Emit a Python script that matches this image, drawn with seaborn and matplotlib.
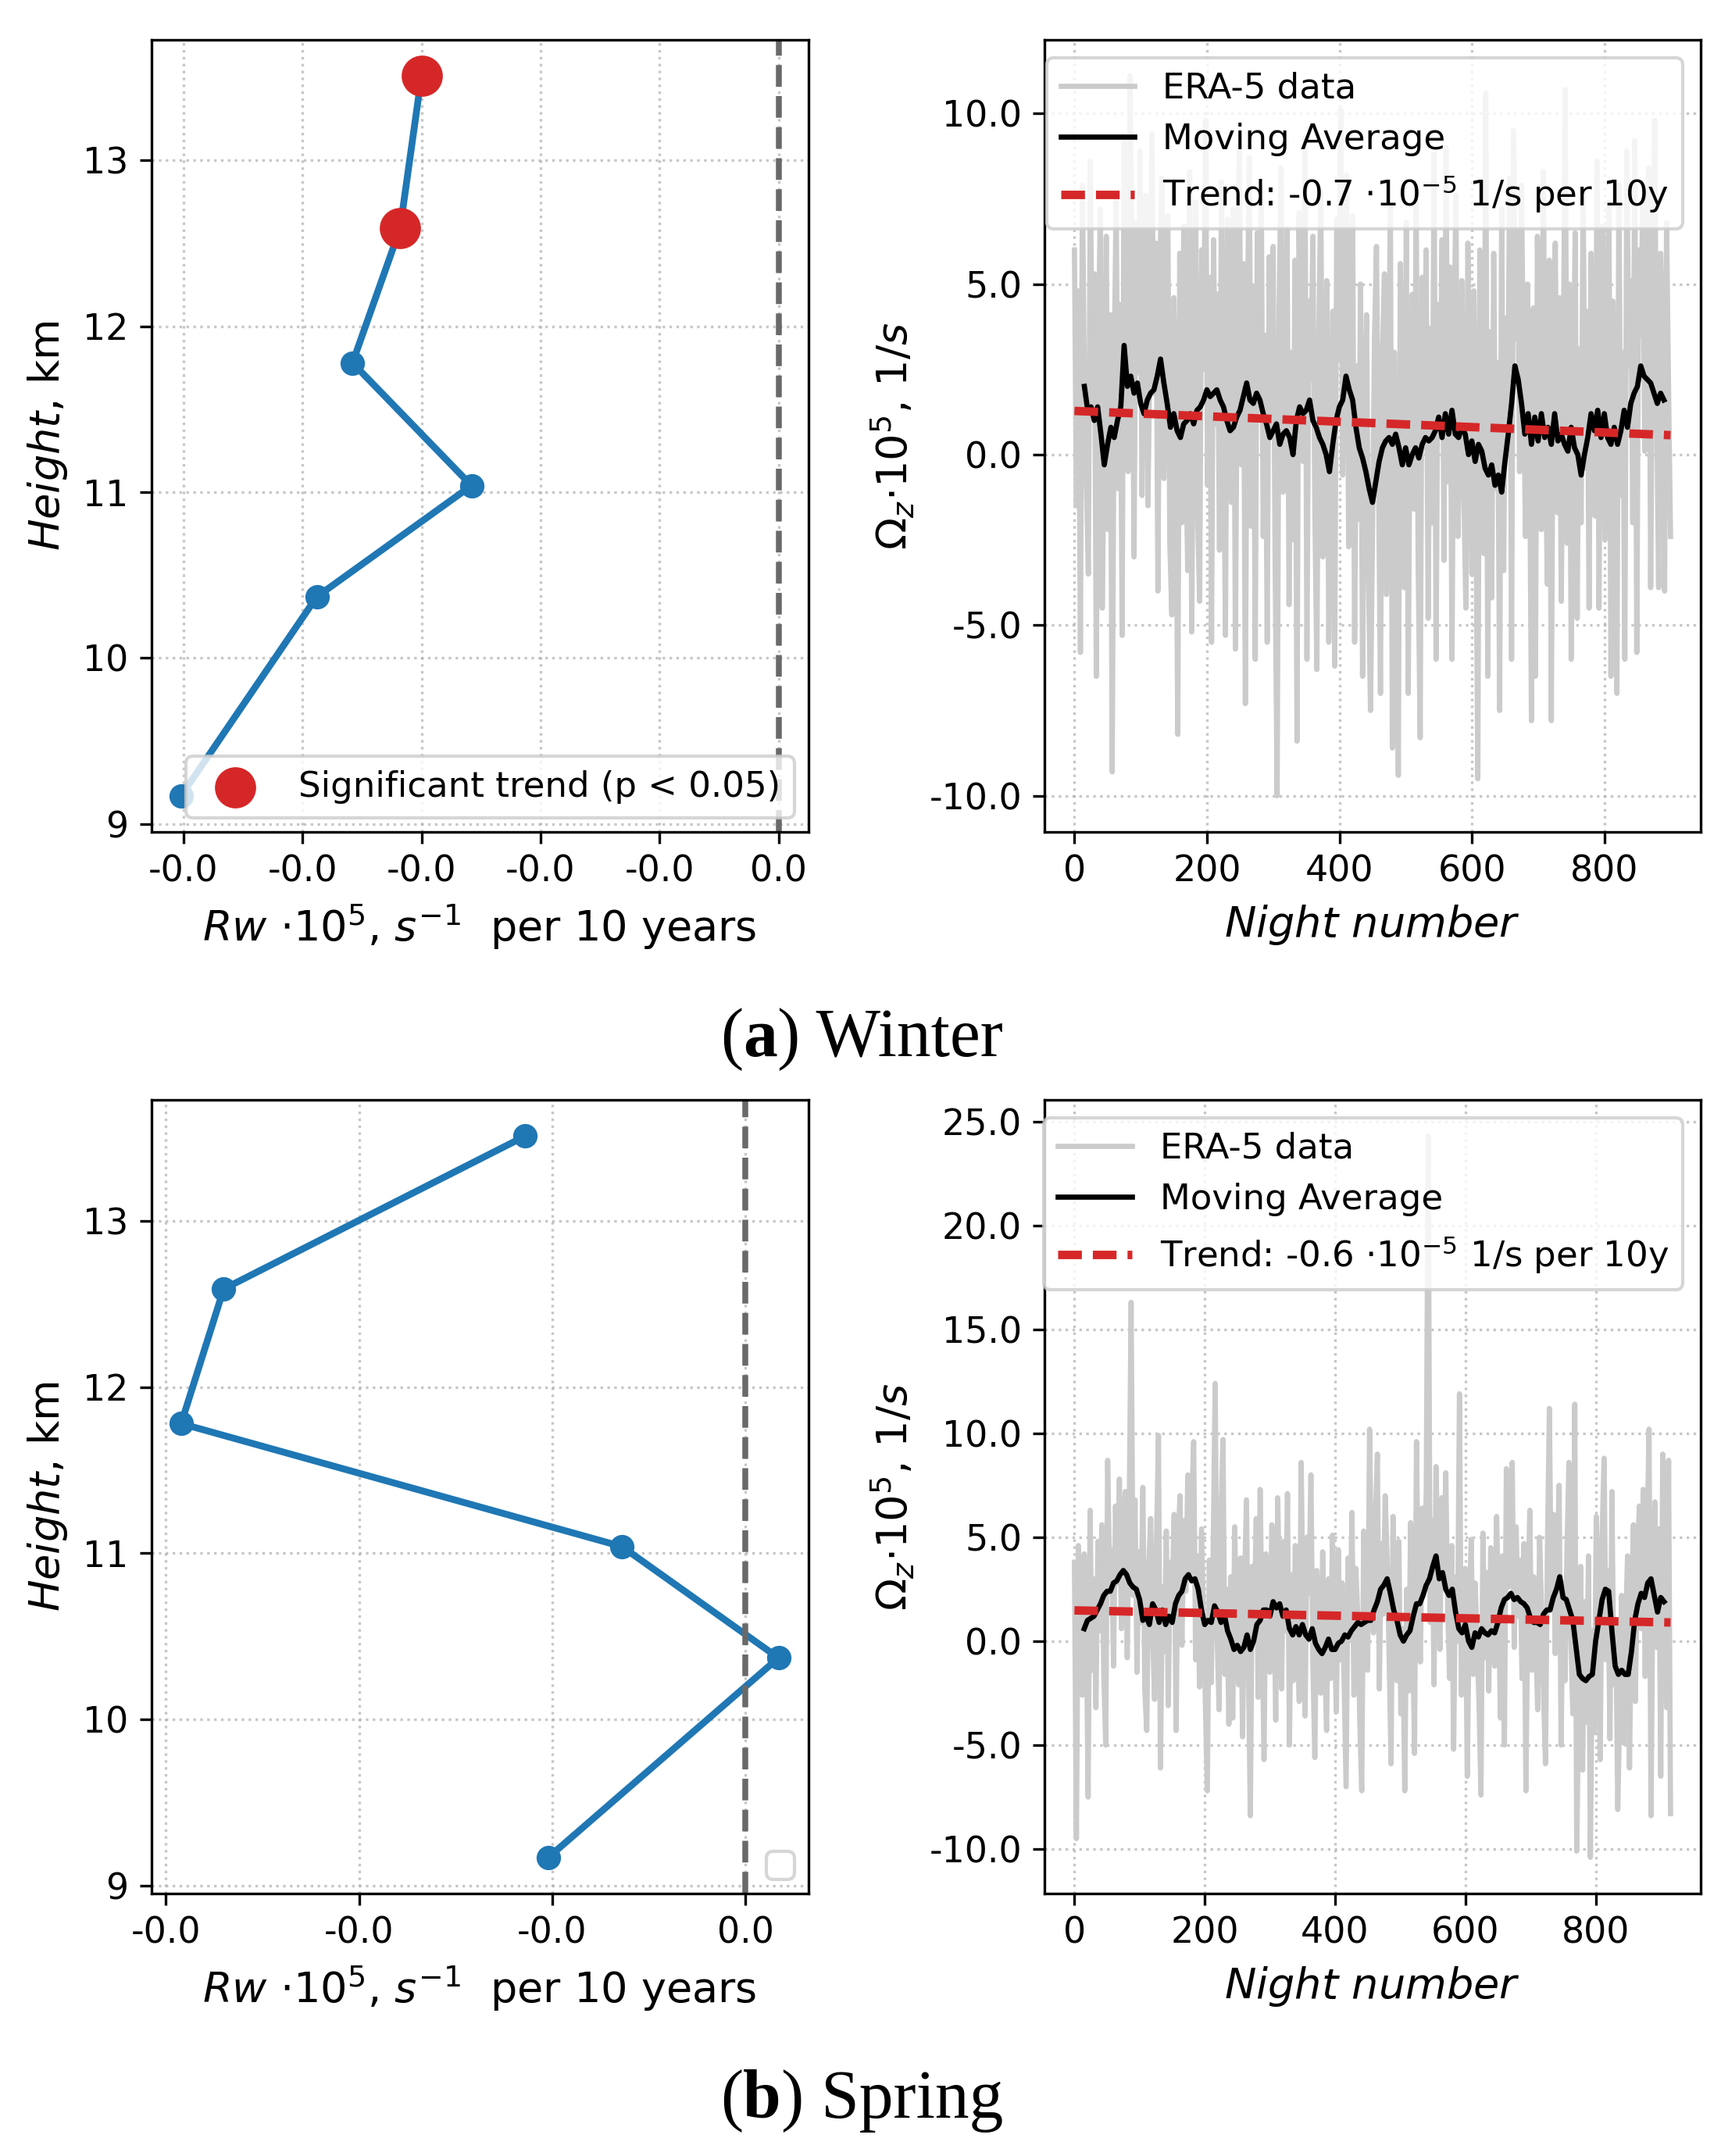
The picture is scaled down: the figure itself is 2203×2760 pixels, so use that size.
import numpy as np
import matplotlib
matplotlib.use("Agg")
import matplotlib.pyplot as plt
import seaborn as sns
from matplotlib import ticker

# ---- vertical profiles (left column) ----
heights = [9.17, 10.37, 11.04, 11.78, 12.59, 13.51]
winter_rw = [-0.0251, -0.0194, -0.0129, -0.0179, -0.0159, -0.0150]
spring_rw = [-0.0102, 0.0017, -0.0064, -0.0292, -0.0270, -0.0114]
winter_sig = [False, False, False, False, True, True]

# ---- ERA-5 nightly vorticity, every 3rd night (right column) ----
winter_era5 = [
    6.0, -1.5, 4.8, -5.8, 7.9, 2.1, -0.8, -3.5, 8.6, 1.2,
    5.3, -6.5, 3.0, 7.2, -4.5, 0.8, 6.4, -2.2, 4.1, -9.3,
    2.7, 7.5, -1.0, 4.4, -5.3, 9.2, 3.6, -0.5, 11.1, 5.1,
    -3.0, 6.8, 2.4, 8.9, -1.2, 4.0, 7.6, -1.5, 3.3, 9.4,
    1.8, 6.2, -4.0, 5.5, 8.1, -0.7, 3.9, 7.0, -2.6, -4.7,
    4.6, 1.0, -8.2, 5.9, -2.0, 6.7, 0.4, -3.4, 8.3, -5.2,
    3.1, 7.4, -1.8, -4.3, 6.0, 2.5, 9.8, -0.9, 5.2, -5.5,
    6.3, 0.9, 4.7, -2.8, 8.0, 1.6, -5.3, 6.9, 3.2, -1.4,
    7.2, -5.7, 4.0, 9.1, -0.3, 5.6, -7.3, 3.8, 8.7, -2.1,
    4.9, -6.0, 6.5, 1.3, 7.8, -2.4, 3.5, -5.5, 5.8, 0.6,
    6.1, -3.2, -10.0, 4.3, 8.4, -1.1, 2.0, 6.6, -4.4, 3.0,
    -2.5, 5.7, -8.4, 7.1, 1.9, -0.2, 9.3, -6.0, 4.5, 2.2,
    6.4, -1.7, -6.3, 3.6, 7.7, -3.0, 0.5, 5.1, -5.5, -1.0,
    4.2, -6.2, 6.9, 2.8, 10.1, -0.6, 5.4, 8.2, -2.7, 3.9,
    7.0, -5.5, 2.6, -1.9, 5.0, -6.5, 1.1, 4.1, -3.6, -7.5,
    -2.3, 3.4, 6.1, -0.4, -7.0, 2.9, 5.3, -4.1, 1.7, 7.3,
    -8.6, 3.0, -2.8, -9.4, 5.6, 1.5, -3.9, 6.8, -7.0, 2.3,
    4.7, -1.6, 7.4, -3.3, -8.3, 5.2, 0.2, 6.0, -4.8, 3.7,
    -2.0, 8.8, -6.0, 4.4, 1.0, 6.3, -3.1, 9.0, -0.8, 5.5,
    -6.0, 3.3, 7.6, -2.4, 0.9, 5.1, -1.3, -4.5, 6.2, 2.0,
    -3.5, 4.8, -0.7, -9.5, 6.0, 1.4, -2.9, 10.6, -6.5, 3.6,
    -4.2, 5.9, -1.0, 2.7, -7.5, 7.2, -3.4, 4.0, 0.1, 8.1,
    -6.0, 9.5, 3.4, 6.6, -0.5, 7.9, 2.2, -2.4, 5.0, 1.0,
    -7.8, 4.3, -6.5, 6.4, 1.6, -2.2, 8.3, 0.3, -3.8, 5.7,
    -7.8, 3.5, 6.2, -1.7, 4.6, -4.3, 2.1, 10.7, -2.6, 5.0,
    -6.0, 1.8, 6.5, -4.8, 3.1, -2.0, 7.7, -0.4, 4.2, -4.5,
    5.9, 0.7, -1.8, 8.6, -4.5, 3.9, 6.7, -2.5, 2.4, 7.4,
    -6.5, 4.5, 1.2, -7.0, 7.9, -1.2, 3.0, -6.0, 8.9, 2.6,
    5.1, -2.0, 9.2, -5.8, 6.0, 3.5, 7.5, 0.1, 5.8, 8.4,
    -3.9, 4.4, 9.8, 1.6, -3.9, 5.9, 3.2, -4.0, 6.8, 1.9,
    -2.4,
]
spring_era5 = [
    3.8, -9.5, 4.6, 0.8, -2.6, 4.2, 1.5, -7.5, 6.3, -1.4,
    3.0, -3.2, 4.8, 0.5, 5.6, -1.5, -5.0, 8.7, 2.9, 4.4,
    -1.2, 6.5, 2.8, 7.8, 0.6, 5.1, 7.2, -0.8, 6.0, 16.3,
    2.2, 6.8, -1.5, 4.3, 0.9, 7.4, -2.4, -4.3, 3.6, 5.9,
    0.4, -2.8, 4.9, 9.9, -6.1, 2.6, -0.5, 5.3, -3.1, 3.8,
    1.9, 6.1, -4.3, 4.7, 7.0, -0.2, 5.8, 2.4, 8.0, 3.3,
    6.6, 9.6, -0.9, 4.1, -2.2, 5.4, 1.2, -3.0, -7.2, 3.9,
    -2.0, 4.5, 12.4, 0.3, -3.3, 6.2, 9.7, -1.6, 2.5, -4.0,
    3.1, -3.7, 5.5, 0.2, -2.1, 4.0, -4.6, 2.6, 6.8, -1.3,
    -8.4, 3.6, 1.0, 5.9, -2.7, 7.3, 0.8, -5.7, 4.2, 2.0,
    -1.5, 5.6, 2.9, -3.8, 6.9, 1.7, -2.3, 4.8, 0.5, 7.1,
    -5.0, 3.2, -1.9, 4.6, 0.7, -2.9, 8.6, 1.4, -3.6, 5.0,
    2.3, 8.0, -1.1, -5.6, 3.4, 0.9, -2.5, 4.3, -0.7, -4.3,
    3.0, -1.8, 5.1, 0.4, -3.4, 4.4, -0.9, 2.8, -2.0, -7.0,
    4.0, 0.2, 6.2, -2.6, 3.5, 1.1, -3.9, -7.2, 5.3, 2.1,
    -1.4, 10.2, 3.2, 0.4, 5.9, 9.0, -2.3, 4.7, 1.3, 7.0,
    3.9, -0.7, -5.9, 6.0, 2.3, -1.9, 4.8, -3.5, 0.6, -7.2,
    2.5, -2.4, 5.7, 0.8, -5.4, 9.6, 1.9, -1.0, 6.4, 3.0,
    7.2, 24.3, 0.9, 5.8, -2.1, 8.4, 3.7, -0.4, 6.9, 2.6,
    8.1, 1.4, -1.8, 4.6, -5.2, 3.1, 0.0, 11.9, -2.6, 2.2,
    3.5, -6.5, 1.3, 4.9, -1.6, 2.8, 0.1, -3.0, -7.4, 5.2,
    -0.8, 3.3, -2.4, 4.5, 0.8, -1.2, 6.0, 1.6, -3.7, 4.1,
    -5.0, 8.3, 2.6, 4.3, 8.6, -0.3, 5.5, 1.2, 3.9, -1.8,
    4.7, -7.2, 2.0, 6.3, -1.4, 3.1, 0.4, -3.3, 5.0, 1.5,
    -2.5, -5.9, 4.4, 11.2, 1.8, 6.1, -0.6, 3.9, 7.5, -5.0,
    2.8, -1.9, 4.3, 8.6, 0.2, -3.5, 11.4, -10.1, -2.8, 3.6,
    -6.2, 1.9, -3.9, 4.1, -10.4, 0.5, -4.4, 6.0, 2.3, -5.7,
    5.1, 8.8, -0.9, 3.4, -4.7, 7.2, -2.1, 1.0, -8.1, -3.2,
    2.2, -4.9, 0.7, 4.1, -6.1, 1.5, 5.6, -2.9, 3.8, 6.5,
    0.6, 7.3, -1.7, 4.9, 10.2, -8.4, 3.3, 6.7, -0.3, 5.4,
    -6.5, 9.0, 1.8, -3.2, 8.7, -8.3,
]

# moving average, every 5th night from night 15
winter_ma = [
    2.0, 1.3, 1.4, 1.0, 1.4, 0.6, -0.3, 0.3, 0.8, 0.5,
    1.0, 1.4, 3.2, 2.0, 2.3, 1.8, 2.1, 1.5, 1.2, 1.6,
    1.8, 1.9, 2.3, 2.8, 2.1, 1.5, 0.8, 1.2, 0.7, 0.5,
    0.9, 1.0, 1.2, 0.9, 1.3, 1.4, 1.6, 1.9, 1.7, 1.8,
    1.9, 1.6, 1.4, 1.0, 0.7, 0.8, 1.1, 1.3, 1.7, 2.1,
    1.6, 1.5, 1.8, 1.6, 1.2, 0.9, 0.5, 0.7, 0.9, 0.3,
    0.6, 0.7, 0.5, 0.0, 1.0, 1.4, 1.2, 1.3, 1.6, 1.0,
    0.8, 0.5, 0.3, 0.0, -0.5, 0.3, 1.0, 1.4, 1.6, 2.3,
    1.9, 1.6, 0.8, 0.2, -0.1, -0.5, -1.0, -1.4, -0.8, -0.2,
    0.2, 0.4, 0.5, 0.3, 0.6, 0.2, -0.3, 0.2, -0.3, 0.0,
    0.2, -0.1, 0.3, 0.5, 0.4, 0.5, 0.7, 1.1, 0.5, 1.2,
    0.6, 1.3, 0.6, 0.5, 0.8, 0.6, 0.0, 0.4, -0.2, 0.3,
    0.1, -0.4, -0.6, -0.3, -0.9, -0.6, -1.1, -0.2, 0.6, 1.5,
    2.6, 2.2, 1.5, 0.6, 1.2, 0.3, 1.1, 0.4, 1.2, 0.5,
    0.8, 0.3, 1.2, 0.4, 0.6, 0.3, 0.1, 0.8, 0.2, 0.0,
    -0.6, 0.0, 0.5, 1.2, 0.7, 1.3, 0.5, 1.2, 0.5, 0.3,
    0.8, 0.3, 0.7, 1.3, 0.8, 1.5, 1.8, 2.0, 2.6, 2.3,
    2.2, 2.1, 1.8, 1.5, 1.8, 1.6,
]
spring_ma = [
    0.6, 1.0, 1.1, 1.2, 1.5, 1.8, 2.2, 2.4, 2.4, 2.8,
    2.9, 3.2, 3.4, 3.2, 2.8, 2.6, 2.5, 2.0, 1.0, 1.2,
    0.8, 1.8, 1.5, 0.9, 1.5, 0.8, 1.2, 0.9, 1.8, 2.2,
    2.4, 3.0, 3.2, 2.9, 3.0, 2.5, 1.5, 0.8, 1.0, 0.9,
    1.7, 1.4, 0.9, 1.3, 0.5, 0.1, -0.4, -0.2, -0.5, -0.3,
    0.3, -0.4, 0.0, 0.8, 1.0, 1.5, 1.5, 1.2, 1.9, 1.6,
    1.8, 1.2, 1.5, 0.6, 0.3, 0.7, 0.3, 0.8, 0.3, 0.1,
    0.6, -0.1, -0.4, -0.6, -0.3, 0.1, -0.4, -0.4, -0.1, 0.0,
    0.3, 0.2, 0.5, 0.7, 0.9, 0.8, 0.9, 1.0, 1.0, 1.5,
    1.9, 2.5, 2.7, 3.0, 2.3, 1.5, 1.0, 0.3, 0.0, 0.3,
    0.5, 1.2, 1.8, 1.8, 2.2, 2.7, 3.0, 3.6, 4.1, 3.0,
    3.3, 2.5, 2.2, 2.5, 1.4, 0.6, 0.4, 0.8, 0.0, -0.3,
    0.4, 0.2, 0.6, 0.4, 0.3, 0.5, 0.4, 0.9, 1.6, 2.0,
    2.1, 2.3, 2.0, 2.1, 1.9, 1.8, 1.6, 1.1, 0.9, 0.9,
    0.8, 1.3, 1.5, 1.5, 2.1, 2.5, 3.1, 2.1, 2.0, 1.5,
    1.0, -0.3, -1.6, -1.8, -1.9, -1.7, -1.6, 0.0, 1.0, 2.0,
    2.5, 2.4, 0.5, -1.2, -1.6, -1.4, -1.6, -1.6, -0.5, 1.0,
    1.8, 2.3, 2.1, 2.8, 3.0, 2.2, 1.4, 2.1, 1.9,
]

# linear trend end points (night, value)
winter_trend_nights = [0, 900]
winter_trend = [1.28, 0.57]
spring_trend_nights = [0, 915]
spring_trend = [1.48, 0.90]
trend_labels = ["-0.7", "-0.6"]

plt.rcParams.update({
    "xtick.labelsize": 11,
    "ytick.labelsize": 11,
    "axes.labelsize": 13,
    "legend.fontsize": 11,
})

W, H = 2203, 2760
fig = plt.figure(figsize=(W / 300, H / 300), dpi=300)

ax_wl = fig.add_axes([0.0879, 0.6142, 0.3818, 0.3673])
ax_wr = fig.add_axes([0.607, 0.6142, 0.381, 0.3673])
ax_sl = fig.add_axes([0.0879, 0.1218, 0.3818, 0.3680])
ax_sr = fig.add_axes([0.607, 0.1218, 0.381, 0.3680])

zero_fmt = ticker.FuncFormatter(lambda v, p: "%.1f" % (0.0 if abs(v) < 1e-12 else v))


def profile(ax, rw, sig, step):
    sns.lineplot(x=rw, y=heights, orient="y", sort=False, ax=ax, color="tab:blue",
                 lw=2.1, marker="o", markersize=7.5, markeredgewidth=0)
    if sig is not None:
        sx = [r for r, s in zip(rw, sig) if s]
        sy = [h for h, s in zip(heights, sig) if s]
        sns.scatterplot(x=sx, y=sy, ax=ax, color="tab:red", s=160, linewidth=0,
                        zorder=3, label="Significant trend (p < 0.05)")
    ax.axvline(0, color="dimgray", ls="--", lw=1.8)
    ax.xaxis.set_major_locator(ticker.MultipleLocator(step))
    ax.xaxis.set_major_formatter(zero_fmt)
    ax.grid(True, linestyle=":", alpha=0.7)
    ax.set_ylabel(r"$Height$, km")
    ax.set_xlabel(r"$Rw$ ${\cdot}10^5$, $s^{-1}$  per 10 years")
    ax.legend(loc="lower right", borderaxespad=0.4, fontsize=10.8)


def series(ax, era5, ma, tn, tv, tlabel):
    nights = np.arange(0, 3 * len(era5), 3)
    ma_nights = np.arange(15, 15 + 5 * len(ma), 5)
    sns.lineplot(x=nights, y=era5, ax=ax, color="#cbcbcb", lw=1.6, label="ERA-5 data")
    sns.lineplot(x=ma_nights, y=ma, ax=ax, color="black", lw=1.6, label="Moving Average")
    sns.lineplot(x=tn, y=tv, ax=ax, color="tab:red", lw=2.6, dashes=False,
                 label="Trend: " + tlabel + r" ${\cdot}10^{-5}$ 1/s per 10y")
    ax.lines[-1].set_dashes((2.8, 1.3))
    ax.yaxis.set_major_locator(ticker.MultipleLocator(5))
    ax.yaxis.set_major_formatter(ticker.FormatStrFormatter("%.1f"))
    ax.grid(True, linestyle=":", alpha=0.7)
    ax.set_xlabel(r"$Night\ number$")
    ax.set_ylabel(r"$\Omega_z{\cdot}10^5$, $1/s$")
    ax.legend(loc="upper right", handlelength=2.1, handletextpad=0.8, fontsize=10.8)


profile(ax_wl, winter_rw, winter_sig, 0.005)
profile(ax_sl, spring_rw, None, 0.01)
series(ax_wr, winter_era5, winter_ma, winter_trend_nights, winter_trend, trend_labels[0])
series(ax_sr, spring_era5, spring_ma, spring_trend_nights, spring_trend, trend_labels[1])


def caption(x, y, letter, word):
    r = fig.canvas.get_renderer()
    inv = fig.transFigure.inverted()
    for s, w in [("(", "normal"), (letter, "bold"), (") " + word, "normal")]:
        t = fig.text(x, y, s, fontsize=21, family="Liberation Serif", weight=w, va="baseline")
        bb = t.get_window_extent(r)
        x = inv.transform((bb.x1, bb.y0))[0]


caption(0.4185, 0.5102, "a", "Winter")
caption(0.4185, 0.0179, "b", "Spring")

fig.savefig("out.png", dpi=300)
